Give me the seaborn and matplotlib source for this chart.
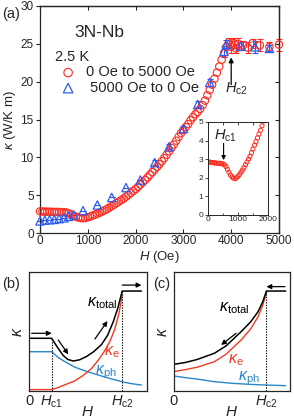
import numpy as np
import pandas as pd
import seaborn as sns
import matplotlib.pyplot as plt

# --- data ---
# (a) 0 Oe -> 5000 Oe sweep (red circles)
h_up = [0, 50, 100, 150, 200, 250, 300, 350, 400, 450, 500, 550, 600, 650, 700, 750,
        800, 850, 900, 950, 1000, 1050, 1100, 1150, 1200, 1250, 1300, 1350, 1400, 1450,
        1500, 1550, 1600, 1650, 1700, 1750, 1800, 1850, 1900, 1950, 2000, 2050, 2100,
        2150, 2200, 2250, 2300, 2350, 2400, 2450, 2500, 2550, 2600, 2650, 2700, 2750,
        2800, 2850, 2900, 2950, 3000, 3050, 3100, 3150, 3200, 3250, 3300, 3350, 3400,
        3450, 3500, 3550, 3600, 3650, 3700, 3750, 3800, 3850, 3900]
k_up = [2.85, 2.85, 2.82, 2.82, 2.8, 2.8, 2.78, 2.78, 2.78, 2.75, 2.75, 2.7, 2.6, 2.45,
        2.3, 2.15, 2.05, 1.98, 1.95, 2.0, 2.08, 2.18, 2.3, 2.42, 2.55, 2.7, 2.85, 3.0,
        3.15, 3.35, 3.55, 3.75, 3.95, 4.15, 4.35, 4.55, 4.8, 5.05, 5.3, 5.55, 5.8, 6.1,
        6.4, 6.7, 7.0, 7.35, 7.7, 8.05, 8.4, 8.75, 9.1, 9.5, 9.9, 10.35, 10.8, 11.25,
        11.7, 12.2, 12.7, 13.2, 13.6, 14.0, 14.4, 14.9, 15.3, 15.7, 16.0, 16.4, 16.9,
        17.5, 18.2, 18.9, 19.6, 20.4, 21.2, 22.0, 22.9, 23.8, 24.6]
# plateau above Hc2, with error bars
h_up_hi = [3950, 4000, 4050, 4100, 4150, 4250, 4350, 4450, 4600, 4800, 5000]
k_up_hi = [25.2, 24.6, 25.1, 24.4, 25.0, 24.8, 24.5, 25.1, 24.8, 24.6, 24.9]
e_up_hi = [0.6, 0.8, 0.7, 0.6, 0.8, 0.6, 0.7, 0.6, 0.8, 0.7, 0.8]

# 5000 Oe -> 0 Oe sweep (blue triangles)
h_down = [0, 100, 200, 300, 400, 500, 600, 700, 900, 1200, 1500, 1800, 2100, 2400,
          2700, 3000, 3300, 3550, 3850, 3900, 4200, 4500, 4800]
k_down = [1.6, 1.7, 1.75, 1.8, 1.9, 2.0, 2.2, 2.4, 2.95, 3.7, 4.7, 6.0, 7.0, 9.3,
          11.4, 13.8, 17.0, 19.9, 24.0, 24.9, 24.7, 24.6, 24.4]
e_down = [0, 0, 0, 0, 0, 0, 0, 0, 0, 0, 0, 0, 0, 0.3,
          0.3, 0.4, 0.4, 0.5, 0.7, 0.6, 0.5, 0.8, 0.4]

# (b) schematic, field increasing
hc1_b, hc2_b = 0.193, 0.793
b_tot_x = [0, 0.193, 0.24, 0.29, 0.33, 0.377, 0.43, 0.49, 0.55, 0.617, 0.67, 0.717, 0.757, 0.793, 0.957]
b_tot_y = [0.443, 0.443, 0.37, 0.30, 0.265, 0.252, 0.262, 0.29, 0.33, 0.39, 0.47, 0.582, 0.70, 0.84, 0.84]
b_e_x = [0, 0.193, 0.25, 0.30, 0.39, 0.46, 0.533, 0.59, 0.646, 0.69, 0.73, 0.765, 0.793]
b_e_y = [0.012, 0.012, 0.03, 0.05, 0.085, 0.13, 0.19, 0.26, 0.34, 0.42, 0.52, 0.65, 0.80]
b_ph_x = [0, 0.193, 0.25, 0.30, 0.39, 0.49, 0.59, 0.69, 0.79, 0.87, 0.957]
b_ph_y = [0.33, 0.33, 0.28, 0.25, 0.20, 0.165, 0.134, 0.105, 0.078, 0.062, 0.05]

# (c) schematic, field decreasing
hc2_c = 0.797
c_tot_x = [0, 0.1, 0.2, 0.348, 0.45, 0.58, 0.66, 0.725, 0.765, 0.797, 0.963]
c_tot_y = [0.224, 0.24, 0.265, 0.317, 0.38, 0.50, 0.58, 0.667, 0.75, 0.84, 0.84]
c_e_x = [0, 0.1, 0.2, 0.348, 0.45, 0.58, 0.66, 0.725, 0.765, 0.797]
c_e_y = [0.163, 0.18, 0.20, 0.246, 0.31, 0.43, 0.52, 0.625, 0.72, 0.83]
c_ph_x = [0, 0.1, 0.2, 0.348, 0.5, 0.65, 0.797, 0.963]
c_ph_y = [0.126, 0.112, 0.10, 0.078, 0.065, 0.056, 0.05, 0.045]

RED = '#ff2a1f'
BLUE = '#2f5cf0'
LRED = '#f23a22'
LBLUE = '#2a86c8'

sns.set_style("ticks")
plt.rcParams['font.family'] = ['Liberation Sans', 'DejaVu Sans']
plt.rcParams['mathtext.fontset'] = 'custom'
plt.rcParams['mathtext.rm'] = 'Liberation Sans'
plt.rcParams['mathtext.it'] = 'Liberation Sans:italic'
plt.rcParams['axes.linewidth'] = 0.9

fig = plt.figure(figsize=(2.94, 4.20), dpi=100)
W, H = 294, 420

def px_axes(x0, y0, x1, y1):
    return fig.add_axes([x0 / W, 1 - y1 / H, (x1 - x0) / W, (y1 - y0) / H])

# ---------- (a) ----------
ax = px_axes(40, 6, 279, 233)
up = pd.DataFrame({'H': h_up + h_up_hi, 'k': k_up + k_up_hi})
down = pd.DataFrame({'H': h_down, 'k': k_down})

ax.errorbar(h_up_hi, k_up_hi, yerr=e_up_hi, fmt='none', ecolor=RED, elinewidth=0.8,
            capsize=2, capthick=0.8, clip_on=False, zorder=2)
ax.errorbar(h_down, k_down, yerr=e_down, fmt='none', ecolor=BLUE, elinewidth=0.8,
            capsize=2, capthick=0.8, clip_on=False, zorder=2)
sns.scatterplot(data=up, x='H', y='k', ax=ax, marker='o', s=28, color=RED,
                facecolor='none', edgecolor=RED, linewidth=0.8,
                label='0 Oe to 5000 Oe', clip_on=False, zorder=3)
sns.scatterplot(data=down, x='H', y='k', ax=ax, marker='^', s=36, color=BLUE,
                facecolor='none', edgecolor=BLUE, linewidth=0.9,
                label=' 5000 Oe to 0 Oe', clip_on=False, zorder=4)

ax.set_xlim(0, 5000)
ax.set_ylim(0, 30)
ax.set_xticks([0, 1000, 2000, 3000, 4000, 5000])
ax.set_yticks([0, 5, 10, 15, 20, 25, 30])
ax.tick_params(axis='both', labelsize=8.5, length=3, width=0.8, pad=1.5)
ax.tick_params(axis='x', direction='in')
ax.tick_params(axis='y', direction='out')
ax.set_xlabel(r'$H$ (Oe)', fontsize=9.5, labelpad=1.5)
ax.set_ylabel(r'$\kappa$ (W/K m)', fontsize=9.5, labelpad=2)
for side in ['right', 'top']:
    ax.spines[side].set_visible(True)
sec_y = ax.secondary_yaxis('right')
sec_y.set_yticks([0, 5, 10, 15, 20, 25, 30])
sec_y.tick_params(direction='in', length=3, width=0.8, labelright=False)
sec_x = ax.secondary_xaxis('top')
sec_x.set_xticks([0, 1000, 2000, 3000, 4000, 5000])
sec_x.tick_params(direction='in', length=3, width=0.8, labeltop=False)

leg = ax.legend(title='2.5 K', loc='upper left', bbox_to_anchor=(55 / W, 1 - 50 / H),
                bbox_transform=fig.transFigure, frameon=False, fontsize=10.5,
                title_fontsize=10.5, handlelength=1.8, handletextpad=0.35,
                labelspacing=0.1, borderpad=0, borderaxespad=0, alignment='left',
                markerscale=1.15)
ax.text(0.25, 0.883, '3N-Nb', transform=ax.transAxes, fontsize=12.5,
        ha='center', va='center')
ax.annotate('', xy=(4000, 23.2), xytext=(4000, 19.6),
            arrowprops=dict(arrowstyle='-|>', color='black', lw=0.9,
                            mutation_scale=7, shrinkA=0, shrinkB=0))
ax.text(3880, 19.0, r'$H_{\rm c2}$', fontsize=10.5, ha='left', va='center')
fig.text(2 / W, 1 - 14 / H, '(a)', fontsize=10.5, ha='left', va='center')

# inset
axi = px_axes(208, 122, 268, 215)
sns.scatterplot(data=up, x='H', y='k', ax=axi, marker='o', s=9, color=RED,
                facecolor='none', edgecolor=RED, linewidth=0.7, legend=False)
axi.set_xlim(0, 2000)
axi.set_ylim(0, 5)
axi.set_xticks([0, 1000, 2000])
axi.set_xticks([500, 1500], minor=True)
axi.set_yticks([0, 1, 2, 3, 4, 5])
axi.tick_params(axis='both', labelsize=6, length=2.5, width=0.6, pad=1)
axi.tick_params(axis='x', which='both', direction='in', top=True)
axi.tick_params(axis='x', which='minor', length=1.8)
axi.tick_params(axis='y', direction='out')
axi.set_xlabel('')
axi.set_ylabel('')
for sp in axi.spines.values():
    sp.set_visible(True)
    sp.set_linewidth(0.7)
axi.annotate('', xy=(520, 2.95), xytext=(520, 3.85),
             arrowprops=dict(arrowstyle='-|>', color='black', lw=0.8,
                             mutation_scale=6, shrinkA=0, shrinkB=0))
axi.text(200, 4.25, r'$H_{\rm c1}$', fontsize=10.5, ha='left', va='center')

# ---------- (b) ----------
axb = px_axes(29, 272, 146.5, 391)
sns.lineplot(x=b_ph_x, y=b_ph_y, ax=axb, color=LBLUE, lw=1.0, sort=False)
sns.lineplot(x=b_e_x, y=b_e_y, ax=axb, color=LRED, lw=1.0, sort=False)
sns.lineplot(x=b_tot_x, y=b_tot_y, ax=axb, color='black', lw=1.1, sort=False)
axb.vlines([hc1_b], 0, b_tot_y[1], colors='black', linestyles=(0, (1.2, 1.2)), lw=0.8)
axb.vlines([hc2_b], 0, b_tot_y[-1], colors='black', linestyles=(0, (1.2, 1.2)), lw=0.8)
arr = dict(arrowstyle='-|>', color='black', lw=0.9, mutation_scale=7, shrinkA=0, shrinkB=0)
axb.annotate('', xy=(0.193, 0.485), xytext=(0.023, 0.485), arrowprops=arr)
axb.annotate('', xy=(0.334, 0.308), xytext=(0.249, 0.429), arrowprops=arr)
axb.annotate('', xy=(0.668, 0.588), xytext=(0.561, 0.437), arrowprops=arr)
axb.annotate('', xy=(0.957, 0.89), xytext=(0.793, 0.89), arrowprops=arr)
axb.text(0.49, 0.71, r'$\kappa_{\rm total}$', fontsize=11.5, color='black')
axb.text(0.64, 0.30, r'$\kappa_{\rm e}$', fontsize=11.5, color=LRED)
axb.text(0.56, 0.14, r'$\kappa_{\rm ph}$', fontsize=11.5, color=LBLUE)
axb.set_xticks([0, hc1_b, hc2_b])
axb.set_xticklabels(['0', r'$H_{\rm c1}$', r'$H_{\rm c2}$'])
fig.text(2 / W, 1 - 284 / H, '(b)', fontsize=10.5, ha='left', va='center')

# ---------- (c) ----------
axc = px_axes(174, 272, 290, 391)
sns.lineplot(x=c_ph_x, y=c_ph_y, ax=axc, color=LBLUE, lw=1.0, sort=False)
sns.lineplot(x=c_e_x, y=c_e_y, ax=axc, color=LRED, lw=1.0, sort=False)
sns.lineplot(x=c_tot_x, y=c_tot_y, ax=axc, color='black', lw=1.1, sort=False)
axc.vlines([hc2_c], 0, c_tot_y[-1], colors='black', linestyles=(0, (1.2, 1.2)), lw=0.8)
axc.annotate('', xy=(0.797, 0.877), xytext=(0.957, 0.877), arrowprops=arr)
axc.annotate('', xy=(0.406, 0.387), xytext=(0.536, 0.485), arrowprops=arr)
axc.text(0.39, 0.667, r'$\kappa_{\rm total}$', fontsize=11.5, color='black')
axc.text(0.464, 0.233, r'$\kappa_{\rm e}$', fontsize=11.5, color=LRED)
axc.text(0.55, 0.092, r'$\kappa_{\rm ph}$', fontsize=11.5, color=LBLUE)
axc.set_xticks([0, hc2_c])
axc.set_xticklabels(['0', r'$H_{\rm c2}$'])
fig.text(153 / W, 1 - 284 / H, '(c)', fontsize=10.5, ha='left', va='center')

for a in (axb, axc):
    a.set_xlim(0, 1)
    a.set_ylim(0, 1)
    a.set_yticks([])
    a.tick_params(axis='x', length=0, labelsize=10.5, pad=2)
    a.set_xlabel(r'$H$', fontsize=11, labelpad=-3.5)
    a.set_ylabel(r'$\kappa$', fontsize=11.5, labelpad=3)
    for sp in a.spines.values():
        sp.set_visible(True)
        sp.set_linewidth(0.9)

fig.savefig('out.png', dpi=100)
